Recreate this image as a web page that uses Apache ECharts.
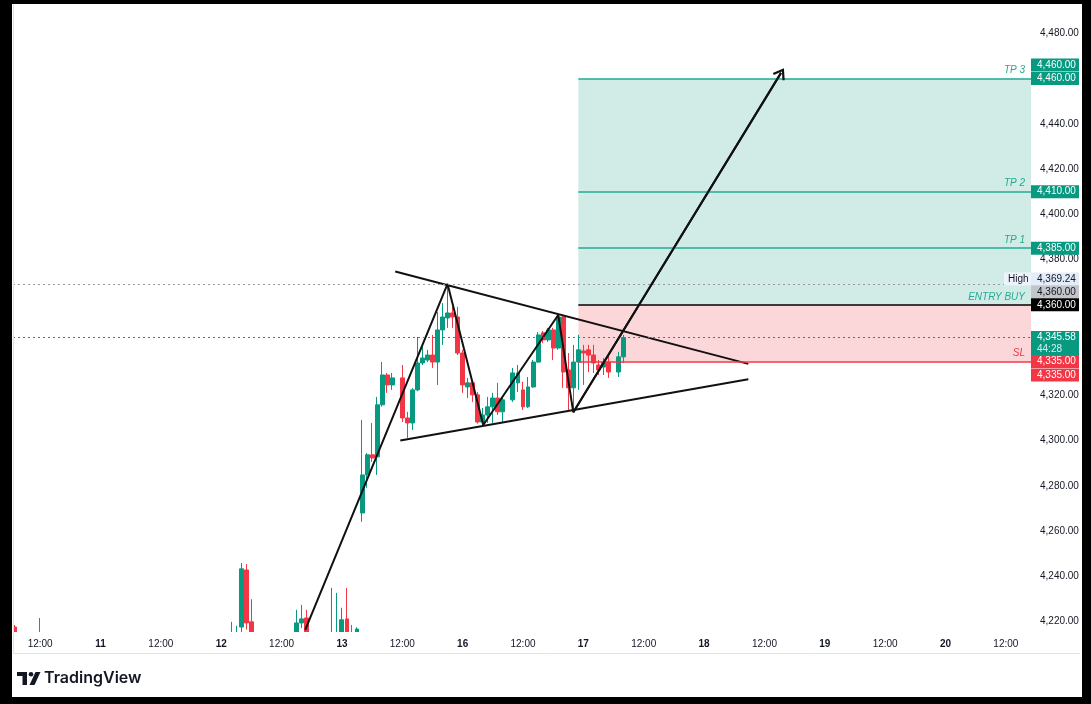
<!DOCTYPE html>
<html>
<head>
<meta charset="utf-8">
<title>XAU 1H</title>
<script src="https://cdn.jsdelivr.net/npm/echarts@6/dist/echarts.min.js"></script>
<style>
html, body { margin: 0; padding: 0; background: #000; }
#main { width: 1091px; height: 704px; }
</style>
</head>
<body>
<div id="main"></div>
<script>
// 横轴: 小时序号, 10日 0:00 = 0, 周末(14,15)跳过
var dayNames = ['10', '11', '12', '13', '16', '17', '18', '19', '20'];
var xTicks = [12, 24, 36, 48, 60, 72, 84, 96, 108, 120, 132, 144, 156, 168, 180, 192, 204];
var yTicks = [4220, 4240, 4260, 4280, 4300, 4320, 4380, 4400, 4420, 4440, 4480];
var xMin = 6.6, xMax = 209;
var yMin = 4215.4, yMax = 4492.5;

// K线数据
var candleHours = [7, 12, 50, 51, 52, 53, 54, 63, 64, 65, 70, 71, 72, 73, 74, 75,
  76, 77, 78, 79, 80, 81, 82, 84, 85, 86, 87, 88, 89, 90, 91, 92, 93, 94, 95, 96, 97, 98, 99, 100,
  101, 102, 103, 104, 106, 107, 108, 109, 110, 111, 112, 113, 114, 115, 116, 117, 118, 119, 120,
  121, 122, 123, 124, 125, 127, 128];
var opens = [4217.6, 4212, 4208, 4208, 4217.6, 4242.8, 4219.9, 4212, 4219.4, 4221.6, 4206, 4206, 4212, 4221.2, 4210, 4212,
  4268.0, 4284.8, 4293.7, 4292.8, 4315.8, 4329.0, 4324.6, 4327.7, 4310.0, 4307.8, 4322.4, 4334.3, 4335.6, 4337.8,
  4334.7, 4348.9, 4354.2, 4356.4, 4354.6, 4338.7, 4323.7, 4325.5, 4320.2, 4308.2, 4311.3, 4314.9, 4318.8, 4312.7,
  4318.0, 4325.5, 4322.4, 4314.9, 4323.7, 4334.7, 4347.6, 4344.5, 4348.9, 4340.9, 4354.6, 4331.2, 4323.3, 4334.7,
  4339.6, 4340.1, 4337.8, 4333.4, 4332.5, 4334.7, 4330.3, 4337.0];
var closes = [4210, 4210, 4212, 4212, 4243.3, 4219.4, 4212, 4219.4, 4221.2, 4212, 4210, 4210, 4220.8, 4212, 4207, 4216.7,
  4284.8, 4293.7, 4292.3, 4315.8, 4329.0, 4324.6, 4327.7, 4310.0, 4307.8, 4322.4, 4334.3, 4336.5, 4337.8, 4334.7,
  4348.9, 4354.6, 4356.4, 4354.6, 4338.7, 4324.6, 4325.5, 4320.2, 4308.2, 4311.3, 4314.9, 4318.8, 4312.7, 4318.0,
  4329.9, 4329.9, 4314.9, 4323.7, 4334.7, 4346.7, 4344.5, 4348.9, 4340.9, 4354.6, 4330.3, 4323.3, 4334.7, 4340.1,
  4338.7, 4337.8, 4334.3, 4331.2, 4334.7, 4330.3, 4337.0, 4345.58];
var lows = [4205, 4205, 4205, 4205, 4213, 4216.5, 4208, 4208, 4217.2, 4208, 4204, 4204, 4208, 4208, 4204, 4210,
  4264.1, 4279.1, 4290.6, 4284.8, 4315.0, 4321.1, 4322.4, 4308.2, 4301.2, 4304.7, 4321.8, 4333.4, 4334.7, 4332.1,
  4324.6, 4342.3, 4349.8, 4349.8, 4337.8, 4321.1, 4318.8, 4317.1, 4307.5, 4306.9, 4307.8, 4307.8, 4311.3, 4308.2,
  4317.1, 4321.5, 4313.5, 4314.4, 4323.3, 4334.3, 4343.1, 4343.6, 4335.6, 4340.1, 4323.3, 4313.5, 4312.7, 4322.4,
  4324.6, 4330.3, 4329.9, 4329.0, 4329.0, 4327.7, 4328.1, 4334.3];
var highs = [4218.5, 4221.6, 4219.9, 4218.1, 4245.9, 4245.4, 4229.9, 4225.2, 4227.4, 4225.2, 4234.9, 4232.7, 4226.1, 4234.9, 4218.5, 4217.5,
  4309.1, 4294.5, 4307.8, 4319.3, 4334.7, 4329.9, 4329.9, 4333.4, 4312.7, 4323.3, 4345.8, 4341.4, 4340.1, 4346.7,
  4356.8, 4360.8, 4369.24, 4359.1, 4359.1, 4340.1, 4327.7, 4325.9, 4321.5, 4314.4, 4319.3, 4321.1, 4325.5, 4319.3,
  4332.1, 4333.4, 4326.0, 4328.1, 4335.6, 4348.0, 4348.4, 4349.8, 4349.8, 4355.5, 4355.0, 4338.7, 4342.3, 4346.7,
  4342.3, 4342.3, 4342.3, 4335.6, 4336.5, 4337.8, 4339.2, 4346.7];

// 画线 (三角形 + 走势路径)
var upperLine = [[82.6, 4374.7], [152.8, 4333.9]];
var lowerLine = [[83.6, 4300.0], [152.8, 4327.1]];
var pathLine = [[64.7, 4216.3], [93, 4369.24], [100.1, 4306.9], [115, 4355.5], [118, 4312.5], [159.3, 4462.5]];

// 多单设置
var zoneStart = 119;
var tp3 = 4460, tp2 = 4410, tp1 = 4385, entry = 4360, sl = 4335;
var dayHigh = 4369.24, lastPrice = 4345.58, countdown = '44:28';

var green = '#089981', red = '#f23645', ink = '#131722', pen = '#111';
var font = 'Liberation Sans, Arial, sans-serif';

function fmt(v) {
  return v.toLocaleString('en-US', { minimumFractionDigits: 2, maximumFractionDigits: 2 });
}

var candles = candleHours.map(function (h, i) {
  return [h, opens[i], closes[i], lows[i], highs[i]];
});

function levelLine(val, color, text) {
  return [
    {
      coord: [zoneStart, val],
      lineStyle: { color: color, width: 1.5, type: 'solid' },
      label: {
        show: true, position: 'insideEndTop', formatter: text, distance: [6, 3],
        color: color === '#000' ? '#22ab94' : color, fontStyle: 'italic', fontSize: 10, fontFamily: font
      }
    },
    { coord: [xMax, val] }
  ];
}

var arrowHead = 'path://M5,0 L10,9 L8.6,10 L5,3.4 L1.4,10 L0,9 Z';

var chart = echarts.init(document.getElementById('main'));

var option = {
  backgroundColor: '#fff',
  animation: false,
  grid: { left: 13, right: 60, top: 5, bottom: 72 },
  xAxis: {
    type: 'value', min: xMin, max: xMax, z: 10,
    axisLine: { show: false }, axisTick: { show: false }, splitLine: { show: false },
    axisLabel: {
      customValues: xTicks, color: ink, fontSize: 10, fontFamily: font, margin: 7,
      formatter: function (v) {
        if (v % 24 === 12) return '12:00';
        return '{b|' + dayNames[Math.round(v / 24)] + '}';
      },
      rich: { b: { fontWeight: 'bold', fontSize: 10, color: ink, fontFamily: font } }
    }
  },
  yAxis: {
    type: 'value', position: 'right', min: yMin, max: yMax,
    axisLine: { show: false }, axisTick: { show: false }, splitLine: { show: false },
    axisLabel: {
      customValues: yTicks, color: ink, fontSize: 10, fontFamily: font, margin: 9,
      formatter: function (v) { return fmt(v); }
    }
  },
  series: [
    {
      type: 'candlestick',
      data: candles,
      barWidth: 4.4,
      clip: true,
      itemStyle: { color: green, color0: red, borderColor: green, borderColor0: red, borderWidth: 1 },
      markArea: {
        silent: true,
        data: [
          [{ coord: [zoneStart, tp3], itemStyle: { color: 'rgba(8,153,129,0.19)' } }, { coord: [xMax, entry] }],
          [{ coord: [zoneStart, entry], itemStyle: { color: 'rgba(242,54,69,0.2)' } }, { coord: [xMax, sl] }]
        ]
      },
      markLine: {
        silent: true,
        symbol: ['none', 'none'],
        data: [
          { yAxis: dayHigh, lineStyle: { type: [2, 3], color: '#9598a1', width: 1 }, label: { show: false } },
          { yAxis: lastPrice, lineStyle: { type: [2, 3], color: green, width: 1 }, label: { show: false } },
          levelLine(tp3, '#22ab94', 'TP 3'),
          levelLine(tp2, '#22ab94', 'TP 2'),
          levelLine(tp1, '#22ab94', 'TP 1'),
          levelLine(entry, '#000', 'ENTRY BUY'),
          levelLine(sl, red, 'SL')
        ]
      }
    },
    {
      type: 'line', data: upperLine, symbol: 'none', silent: true,
      lineStyle: { color: pen, width: 2 }
    },
    {
      type: 'line', data: lowerLine, symbol: 'none', silent: true,
      lineStyle: { color: pen, width: 2 }
    },
    {
      type: 'line', data: pathLine, symbol: 'none', silent: true,
      lineStyle: { color: pen, width: 2 },
      markLine: {
        silent: true,
        symbol: ['none', arrowHead],
        symbolSize: [14, 11],
        label: { show: false },
        lineStyle: { color: pen, width: 2, type: 'solid' },
        data: [[{ coord: pathLine[4] }, { coord: pathLine[5] }]]
      }
    }
  ]
};

chart.setOption(option);

// 右侧价格标签
var tags = [
  { v: tp3, dy: -13.5, bg: green, fg: '#fff' },
  { v: tp3, dy: 0, bg: green, fg: '#fff' },
  { v: tp2, dy: 0, bg: green, fg: '#fff' },
  { v: tp1, dy: 0, bg: green, fg: '#fff' },
  { v: dayHigh, dy: -5, bg: '#e3ecf9', fg: ink, name: 'High' },
  { v: entry, dy: -13, bg: '#c3c5ca', fg: ink },
  { v: entry, dy: 0, bg: '#000', fg: '#fff' },
  { v: lastPrice, dy: 0, bg: green, fg: '#fff', sub: countdown },
  { v: sl, dy: 0, bg: red, fg: '#fff' },
  { v: sl, dy: 13.5, bg: red, fg: '#fff' }
];

var graphics = [];
tags.forEach(function (t) {
  var y = chart.convertToPixel({ yAxisIndex: 0 }, t.v) + t.dy;
  var h = t.sub ? 25 : 13;
  graphics.push({
    type: 'rect', z: 20, shape: { x: 1031, y: y - 6.5, width: 48, height: h },
    style: { fill: t.bg }
  });
  graphics.push({
    type: 'text', z: 21, x: 1037, y: y,
    style: { text: fmt(t.v), fill: t.fg, fontSize: 10, fontFamily: font, verticalAlign: 'middle', align: 'left' }
  });
  if (t.sub) {
    graphics.push({
      type: 'text', z: 21, x: 1037, y: y + 12,
      style: { text: t.sub, fill: '#d9f2ee', fontSize: 10, fontFamily: font, verticalAlign: 'middle', align: 'left' }
    });
  }
  if (t.name) {
    graphics.push({
      type: 'rect', z: 20, shape: { x: 1004, y: y - 6.5, width: 27, height: 13 },
      style: { fill: '#eef3fb' }
    });
    graphics.push({
      type: 'text', z: 21, x: 1008, y: y,
      style: { text: t.name, fill: ink, fontSize: 10, fontFamily: font, verticalAlign: 'middle', align: 'left' }
    });
  }
});

// 绘图区下沿遮罩 (裁掉超出的K线), 面板边框, 黑色外框
graphics.push(
  { type: 'rect', z: 6, shape: { x: 13, y: 632, width: 1018, height: 34 }, style: { fill: '#fff' } },
  { type: 'line', z: 7, shape: { x1: 13.5, y1: 4, x2: 13.5, y2: 653 }, style: { stroke: '#e0e3eb', lineWidth: 1 } },
  { type: 'line', z: 7, shape: { x1: 13, y1: 653.5, x2: 1080, y2: 653.5 }, style: { stroke: '#e0e3eb', lineWidth: 1 } },
  { type: 'rect', z: 30, shape: { x: 0, y: 0, width: 1091, height: 4 }, style: { fill: '#000' } },
  { type: 'rect', z: 30, shape: { x: 0, y: 0, width: 12, height: 704 }, style: { fill: '#000' } },
  { type: 'rect', z: 30, shape: { x: 1082, y: 0, width: 9, height: 704 }, style: { fill: '#000' } },
  { type: 'rect', z: 30, shape: { x: 0, y: 697, width: 1091, height: 7 }, style: { fill: '#000' } }
);

// TradingView 标志
graphics.push(
  { type: 'rect', z: 20, shape: { x: 17, y: 672, width: 10, height: 4 }, style: { fill: ink } },
  { type: 'rect', z: 20, shape: { x: 22.5, y: 672, width: 4.5, height: 13 }, style: { fill: ink } },
  { type: 'circle', z: 20, shape: { cx: 31, cy: 674.2, r: 2.3 }, style: { fill: ink } },
  { type: 'polygon', z: 20, shape: { points: [[29.5, 685], [34.5, 685], [40.5, 672], [35.5, 672]] }, style: { fill: ink } },
  {
    type: 'text', z: 20, x: 44, y: 678.5,
    style: { text: 'TradingView', fill: ink, fontSize: 16, fontWeight: 600, fontFamily: 'Inter, sans-serif', verticalAlign: 'middle' }
  }
);

chart.setOption({ graphic: graphics });
</script>
</body>
</html>
